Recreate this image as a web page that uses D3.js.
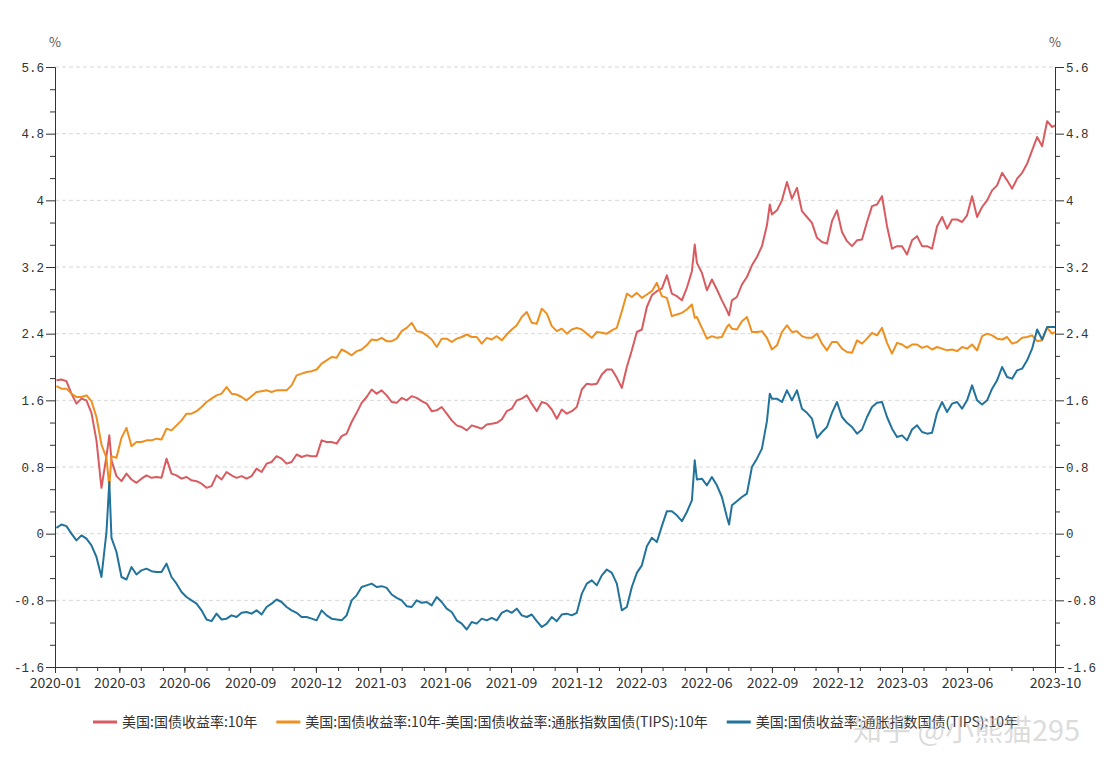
<!DOCTYPE html>
<html>
<head>
<meta charset="utf-8">
<script src="https://cdn.jsdelivr.net/npm/d3@7"></script>
<style>
body { margin: 0; background: #fff; }
text { font-family: "Noto Sans CJK SC", "Noto Sans", sans-serif; }
</style>
</head>
<body>
<svg id="chart" width="1110" height="773"></svg>
<script>
// weekly points (plus a few spike days)
var dates = [
    // 2020
    "2020-01-03","2020-01-10","2020-01-17","2020-01-24","2020-01-31",
    "2020-02-07","2020-02-14","2020-02-21","2020-02-28",
    "2020-03-06","2020-03-13","2020-03-17","2020-03-20","2020-03-27",
    "2020-04-03","2020-04-10","2020-04-17","2020-04-24",
    "2020-05-01","2020-05-08","2020-05-15","2020-05-22","2020-05-29",
    "2020-06-05","2020-06-12","2020-06-19","2020-06-26",
    "2020-07-03","2020-07-10","2020-07-17","2020-07-24","2020-07-31",
    "2020-08-07","2020-08-14","2020-08-21","2020-08-28",
    "2020-09-04","2020-09-11","2020-09-18","2020-09-25",
    "2020-10-02","2020-10-09","2020-10-16","2020-10-23","2020-10-30",
    "2020-11-06","2020-11-13","2020-11-20","2020-11-27",
    "2020-12-04","2020-12-11","2020-12-18","2020-12-25",
    // 2021
    "2021-01-01","2021-01-08","2021-01-15","2021-01-22","2021-01-29",
    "2021-02-05","2021-02-12","2021-02-19","2021-02-26",
    "2021-03-05","2021-03-12","2021-03-19","2021-03-26",
    "2021-04-02","2021-04-09","2021-04-16","2021-04-23","2021-04-30",
    "2021-05-07","2021-05-14","2021-05-21","2021-05-28",
    "2021-06-04","2021-06-11","2021-06-18","2021-06-25",
    "2021-07-02","2021-07-09","2021-07-16","2021-07-23","2021-07-30",
    "2021-08-06","2021-08-13","2021-08-20","2021-08-27",
    "2021-09-03","2021-09-10","2021-09-17","2021-09-24",
    "2021-10-01","2021-10-08","2021-10-15","2021-10-22","2021-10-29",
    "2021-11-05","2021-11-12","2021-11-19","2021-11-26",
    "2021-12-03","2021-12-10","2021-12-17","2021-12-24","2021-12-31",
    // 2022
    "2022-01-07","2022-01-14","2022-01-21","2022-01-28",
    "2022-02-04","2022-02-11","2022-02-18","2022-02-25",
    "2022-03-04","2022-03-11","2022-03-18","2022-03-25",
    "2022-04-01","2022-04-08","2022-04-15","2022-04-22","2022-04-29",
    "2022-05-06","2022-05-13","2022-05-20","2022-05-27",
    "2022-06-03","2022-06-10","2022-06-14","2022-06-17","2022-06-24",
    "2022-07-01","2022-07-08","2022-07-15","2022-07-22","2022-07-29",
    "2022-08-01","2022-08-05","2022-08-12","2022-08-19","2022-08-26",
    "2022-09-02","2022-09-09","2022-09-16","2022-09-23","2022-09-27","2022-09-30",
    "2022-10-07","2022-10-14","2022-10-21","2022-10-28",
    "2022-11-04","2022-11-11","2022-11-18","2022-11-25",
    "2022-12-02","2022-12-09","2022-12-16","2022-12-23","2022-12-30",
    // 2023
    "2023-01-06","2023-01-13","2023-01-20","2023-01-27",
    "2023-02-03","2023-02-10","2023-02-17","2023-02-24",
    "2023-03-03","2023-03-10","2023-03-17","2023-03-24","2023-03-31",
    "2023-04-07","2023-04-14","2023-04-21","2023-04-28",
    "2023-05-05","2023-05-12","2023-05-19","2023-05-26",
    "2023-06-02","2023-06-09","2023-06-16","2023-06-23","2023-06-30",
    "2023-07-07","2023-07-14","2023-07-21","2023-07-28",
    "2023-08-04","2023-08-11","2023-08-18","2023-08-25",
    "2023-09-01","2023-09-08","2023-09-15","2023-09-22","2023-09-29",
    "2023-10-06","2023-10-13","2023-10-20","2023-10-27","2023-10-31"
];

// 美国:国债收益率:10年
var nominal = [
    1.84,1.85,1.83,1.68,1.56, 1.62,1.60,1.45,1.12, 0.55,0.93,1.18,0.88,0.69,
    0.63,0.72,0.65,0.61, 0.66,0.70,0.67,0.68,0.67, 0.90,0.72,0.70,0.66,
    0.68,0.64,0.63,0.60,0.55, 0.57,0.70,0.65,0.74, 0.70,0.67,0.69,0.66,
    0.69,0.78,0.74,0.84,0.86, 0.93,0.90,0.84,0.86, 0.95,0.92,0.94,0.93,

    0.93,1.12,1.10,1.10,1.08, 1.17,1.20,1.34,1.45, 1.57,1.64,1.73,1.68,
    1.72,1.66,1.58,1.57,1.63, 1.60,1.65,1.63,1.59, 1.56,1.47,1.48,1.52,
    1.44,1.36,1.30,1.28,1.24, 1.30,1.28,1.26,1.31, 1.32,1.33,1.37,1.47,
    1.50,1.60,1.62,1.66,1.56, 1.47,1.58,1.56,1.49, 1.38,1.49,1.44,1.47,1.52,

    1.73,1.80,1.79,1.80, 1.91,1.97,1.97,1.87, 1.75,2.00,2.20,2.42,
    2.45,2.72,2.86,2.91,2.94, 3.10,2.88,2.85,2.80, 2.95,3.15,3.47,3.25,3.13,
    2.92,3.05,2.93,2.80,2.68, 2.62,2.80,2.84,2.99,3.08, 3.22,3.32,3.45,3.70,3.95,3.83,
    3.88,4.00,4.22,4.02, 4.15,3.87,3.80,3.73, 3.55,3.50,3.48,3.75,3.88,

    3.62,3.51,3.45,3.52, 3.53,3.74,3.93,3.95, 4.05,3.69,3.42,3.45,3.45,
    3.35,3.52,3.57,3.45, 3.45,3.42,3.69,3.80, 3.66,3.77,3.77,3.74,3.82,
    4.05,3.80,3.92,4.00, 4.12,4.18,4.33,4.24, 4.14,4.26,4.33,4.44,4.60,
    4.76,4.65,4.95,4.88,4.90
];

// 美国:国债收益率:10年-美国:国债收益率:通胀指数国债(TIPS):10年
var breakeven = [
    1.77,1.74,1.74,1.68,1.64, 1.64,1.66,1.59,1.40, 1.07,0.91,0.56,0.93,0.91,
    1.15,1.27,1.05,1.10, 1.10,1.12,1.12,1.14,1.13, 1.26,1.24,1.30,1.36,
    1.44,1.44,1.47,1.52,1.58, 1.62,1.66,1.68,1.76, 1.68,1.67,1.64,1.60,
    1.65,1.70,1.71,1.72,1.70, 1.72,1.72,1.72,1.78, 1.90,1.92,1.94,1.95,

    1.97,2.04,2.08,2.12,2.11, 2.21,2.18,2.14,2.19, 2.21,2.26,2.33,2.32,
    2.35,2.31,2.31,2.34,2.43, 2.47,2.53,2.43,2.42, 2.38,2.33,2.24,2.34,
    2.34,2.30,2.34,2.36,2.39, 2.36,2.36,2.28,2.35, 2.33,2.37,2.32,2.39,
    2.45,2.50,2.60,2.66,2.53, 2.52,2.70,2.64,2.49, 2.43,2.46,2.40,2.45,2.47,

    2.45,2.40,2.35,2.42, 2.41,2.40,2.44,2.47, 2.67,2.88,2.84,2.89,
    2.83,2.87,2.91,3.01,2.85, 2.83,2.61,2.63,2.65, 2.69,2.75,2.59,2.60,2.47,
    2.34,2.37,2.35,2.36,2.48, 2.51,2.46,2.45,2.55,2.60, 2.42,2.42,2.43,2.35,2.27,2.21,
    2.26,2.42,2.50,2.42, 2.43,2.37,2.35,2.35, 2.40,2.28,2.20,2.30,2.30,

    2.22,2.18,2.17,2.32, 2.28,2.34,2.41,2.38, 2.47,2.29,2.16,2.29,2.27,
    2.23,2.27,2.27,2.23, 2.25,2.21,2.24,2.22, 2.20,2.21,2.19,2.24,2.22,
    2.27,2.20,2.37,2.40, 2.38,2.34,2.33,2.36, 2.28,2.30,2.35,2.36,2.38,
    2.31,2.32,2.47,2.40,2.42
];

// 美国:国债收益率:通胀指数国债(TIPS):10年
var tips = [
    0.07,0.11,0.09,0.00,-0.08, -0.02,-0.06,-0.14,-0.28, -0.52,0.02,0.62,-0.05,-0.22,
    -0.52,-0.55,-0.40,-0.49, -0.44,-0.42,-0.45,-0.46,-0.46, -0.36,-0.52,-0.60,-0.70,
    -0.76,-0.80,-0.84,-0.92,-1.03, -1.05,-0.96,-1.03,-1.02, -0.98,-1.00,-0.95,-0.94,
    -0.96,-0.92,-0.97,-0.88,-0.84, -0.79,-0.82,-0.88,-0.92, -0.95,-1.00,-1.00,-1.02,

    -1.04,-0.92,-0.98,-1.02,-1.03, -1.04,-0.98,-0.80,-0.74, -0.64,-0.62,-0.60,-0.64,
    -0.63,-0.65,-0.73,-0.77,-0.80, -0.87,-0.88,-0.80,-0.83, -0.82,-0.86,-0.76,-0.82,
    -0.90,-0.94,-1.04,-1.08,-1.15, -1.06,-1.08,-1.02,-1.04, -1.01,-1.04,-0.95,-0.92,
    -0.95,-0.90,-0.98,-1.00,-0.97, -1.05,-1.12,-1.08,-1.00, -1.05,-0.97,-0.96,-0.98,-0.95,

    -0.72,-0.60,-0.56,-0.62, -0.50,-0.43,-0.47,-0.60, -0.92,-0.88,-0.64,-0.47,
    -0.38,-0.15,-0.05,-0.10,0.09, 0.27,0.27,0.22,0.15, 0.26,0.40,0.88,0.65,0.66,
    0.58,0.68,0.58,0.44,0.20, 0.11,0.34,0.39,0.44,0.48, 0.80,0.90,1.02,1.35,1.68,1.62,
    1.62,1.58,1.72,1.60, 1.72,1.50,1.45,1.38, 1.15,1.22,1.28,1.45,1.58,

    1.40,1.33,1.28,1.20, 1.25,1.40,1.52,1.57, 1.58,1.40,1.26,1.16,1.18,
    1.12,1.25,1.30,1.22, 1.20,1.21,1.45,1.58, 1.46,1.56,1.58,1.50,1.60,
    1.78,1.60,1.55,1.60, 1.74,1.84,2.00,1.88, 1.86,1.96,1.98,2.08,2.22,
    2.45,2.33,2.48,2.48,2.48
];

var seriesNames = [
    "美国:国债收益率:10年",
    "美国:国债收益率:10年-美国:国债收益率:通胀指数国债(TIPS):10年",
    "美国:国债收益率:通胀指数国债(TIPS):10年"
];
var seriesColors = ["#d95b60", "#ef8f1f", "#22739c"];

var yTicks = [-1.6, -0.8, 0, 0.8, 1.6, 2.4, 3.2, 4, 4.8, 5.6];
var yTickLabels = ["-1.6", "-0.8", "0", "0.8", "1.6", "2.4", "3.2", "4", "4.8", "5.6"];
var xTickLabels = ["2020-01","2020-03","2020-06","2020-09","2020-12","2021-03","2021-06",
    "2021-09","2021-12","2022-03","2022-06","2022-09","2022-12","2023-03","2023-06","2023-10"];

// plot box (don't call it "top", window.top is taken)
var plotL = 55, plotR = 1055, plotT = 67, plotB = 667;

var parse = d3.timeParse("%Y-%m-%d");
var xStart = new Date(2020, 0, 1), xEnd = new Date(2023, 9, 31);

var x = d3.scaleTime().domain([xStart, xEnd]).range([plotL, plotR]);
var y = d3.scaleLinear().domain([-1.6, 5.6]).range([plotB, plotT]);

var svg = d3.select("#chart");

// grid, dashed
svg.append("g").selectAll("line")
    .data(yTicks.slice(1))
    .enter().append("line")
    .attr("x1", plotL).attr("x2", plotR)
    .attr("y1", d => y(d)).attr("y2", d => y(d))
    .attr("stroke", "#d8d8d8")
    .attr("stroke-dasharray", "4,3");

// minor y ticks: thirds between the labelled ones
var yMinor = [];
for (var i = 0; i < yTicks.length - 1; i++) {
    var step = (yTicks[i + 1] - yTicks[i]) / 3;
    yMinor.push(yTicks[i] + step, yTicks[i] + 2 * step);
}

function styleAxis(g) {
    g.select(".domain").attr("stroke", "#333");
    g.selectAll(".tick line").attr("stroke", "#333");
    g.selectAll("text").attr("fill", "#333");
}

var yFont = '"Liberation Mono", "DejaVu Sans Mono", monospace';

svg.append("g").attr("transform", "translate(" + plotL + ",0)")
    .call(d3.axisLeft(y).tickValues(yMinor).tickSize(5).tickFormat("").tickSizeOuter(0))
    .call(styleAxis);
svg.append("g").attr("transform", "translate(" + plotL + ",0)")
    .call(d3.axisLeft(y).tickValues(yTicks).tickSize(9).tickPadding(2)
        .tickFormat((d, i) => yTickLabels[i]).tickSizeOuter(0))
    .call(styleAxis)
    .selectAll("text").style("font-family", yFont).style("font-size", "12.5px");

svg.append("g").attr("transform", "translate(" + plotR + ",0)")
    .call(d3.axisRight(y).tickValues(yMinor).tickSize(5).tickFormat("").tickSizeOuter(0))
    .call(styleAxis);
svg.append("g").attr("transform", "translate(" + plotR + ",0)")
    .call(d3.axisRight(y).tickValues(yTicks).tickSize(9).tickPadding(2)
        .tickFormat((d, i) => yTickLabels[i]).tickSizeOuter(0))
    .call(styleAxis)
    .selectAll("text").style("font-family", yFont).style("font-size", "12.5px");

// x axis: a tick at every month end, labels on quarter ends
var monthEnds = d3.timeMonth.range(new Date(2020, 1, 1), new Date(2023, 10, 1))
    .map(d => d3.timeDay.offset(d, -1));
var labelDates = xTickLabels.map(function (s, i) {
    if (i == 0) return xStart;
    var p = s.split("-");
    return new Date(+p[0], +p[1], 0);
});

svg.append("g").attr("transform", "translate(0," + plotB + ")")
    .call(d3.axisBottom(x).tickValues(monthEnds).tickSize(4).tickFormat("").tickSizeOuter(0))
    .call(styleAxis);
svg.append("g").attr("transform", "translate(0," + plotB + ")")
    .call(d3.axisBottom(x).tickValues(labelDates).tickSize(6).tickPadding(5)
        .tickFormat((d, i) => xTickLabels[i]).tickSizeOuter(0))
    .call(styleAxis)
    .selectAll("text").style("font-size", "14px");

// unit marks
svg.append("text").attr("x", plotL).attr("y", 47).attr("text-anchor", "middle")
    .attr("fill", "#555").style("font-size", "13px").text("%");
svg.append("text").attr("x", plotR).attr("y", 47).attr("text-anchor", "middle")
    .attr("fill", "#555").style("font-size", "13px").text("%");

// lines
var allSeries = [nominal, breakeven, tips];
var line = d3.line()
    .x(d => x(d.date))
    .y(d => y(d.v));

allSeries.forEach(function (vals, si) {
    var pts = vals.map((v, i) => ({ date: parse(dates[i]), v: v }));
    svg.append("path")
        .datum(pts)
        .attr("fill", "none")
        .attr("stroke", seriesColors[si])
        .attr("stroke-width", 2)
        .attr("stroke-linejoin", "round")
        .attr("d", line);
});

// legend
var lx = 93, ly = 722;
seriesNames.forEach(function (name, si) {
    svg.append("line")
        .attr("x1", lx).attr("x2", lx + 24)
        .attr("y1", ly).attr("y2", ly)
        .attr("stroke", seriesColors[si]).attr("stroke-width", 3);
    var t = svg.append("text")
        .attr("x", lx + 29).attr("y", ly + 5)
        .attr("fill", "#333").style("font-size", "14px")
        .text(name);
    lx = lx + 29 + t.node().getComputedTextLength() + 19;
});

// watermark
svg.append("text")
    .attr("x", 853).attr("y", 741)
    .attr("fill", "rgba(190,190,190,0.55)")
    .style("font-size", "29px")
    .text("知乎 @小熊猫295");
</script>
</body>
</html>
